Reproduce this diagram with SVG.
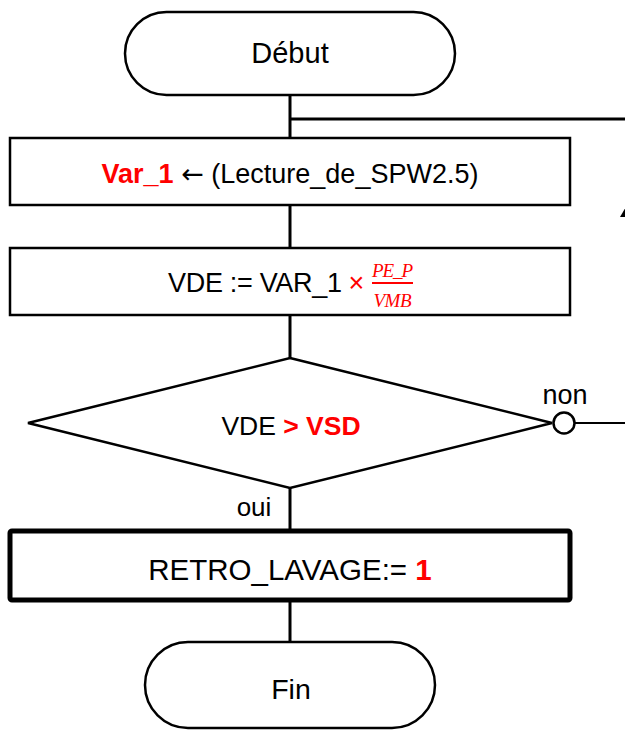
<svg xmlns="http://www.w3.org/2000/svg" width="625" height="730" viewBox="0 0 625 730">
<style>
.s{fill:#fff;stroke:#000;stroke-width:2.5}
.t{font-family:"Liberation Sans",Arial,sans-serif;font-size:27px;fill:#000}
.r{fill:#ff0000}
.b{font-weight:bold}
.c{fill:none;stroke:#000;stroke-width:3}
.m{font-family:"Liberation Serif","DejaVu Serif",serif;font-style:italic;font-size:19px;fill:#ff0000}
</style>
<rect width="625" height="730" fill="#fff"/>
<g id="connectors">
<path class="c" d="M290 95V138M290 119H640M290 205V248M290 315V358M290 488V530M290 600V642"/>
<path class="c" d="M575 423H640V119" style="stroke-width:2"/>
<path d="M630 200L620 217H640Z" fill="#000"/>
</g>
<g id="debut">
<rect class="s" x="125" y="12" width="330" height="83" rx="41.5"/>
<text class="t" x="290" y="63" text-anchor="middle" style="font-size:29px">Début</text>
</g>
<g id="lecture">
<rect class="s" x="10" y="138" width="560" height="67"/>
<text class="t" x="290" y="183" text-anchor="middle"><tspan class="r b">Var_1</tspan> <tspan style="font-family:'DejaVu Sans',sans-serif">←</tspan> (Lecture_de_SPW2.5)</text>
</g>
<g id="calcul">
<rect class="s" x="10" y="248" width="560" height="67"/>
<text class="t" x="168" y="292" textLength="174">VDE := VAR_1</text>
<text class="t r" x="356.5" y="292" text-anchor="middle">×</text>
<text class="m" x="392.5" y="277" text-anchor="middle" textLength="41">PE_P</text>
<line x1="372" y1="283" x2="413" y2="283" stroke="#ff0000" stroke-width="2"/>
<text class="m" x="392.5" y="307" text-anchor="middle" textLength="38">VMB</text>
</g>
<g id="test">
<path class="s" d="M290 358L552 423L290 488L28 423Z"/>
<text class="t" x="291" y="435" text-anchor="middle" style="font-size:26.5px">VDE <tspan class="r b">&gt; VSD</tspan></text>
<circle cx="564" cy="423" r="10.5" fill="#fff" stroke="#000" stroke-width="2.5"/>
<text class="t" x="565" y="404" text-anchor="middle">non</text>
<text class="t" x="254" y="516" text-anchor="middle" style="font-size:26px">oui</text>
</g>
<g id="retro">
<rect x="10" y="531" width="560" height="69" fill="#fff" stroke="#000" stroke-width="5" rx="2"/>
<text class="t" x="290" y="580" text-anchor="middle" style="font-size:29.5px">RETRO_LAVAGE:= <tspan class="r b">1</tspan></text>
</g>
<g id="fin">
<rect class="s" x="145" y="642" width="290" height="86" rx="43"/>
<text class="t" x="291" y="699" text-anchor="middle" style="font-size:28.5px">Fin</text>
</g>
</svg>
